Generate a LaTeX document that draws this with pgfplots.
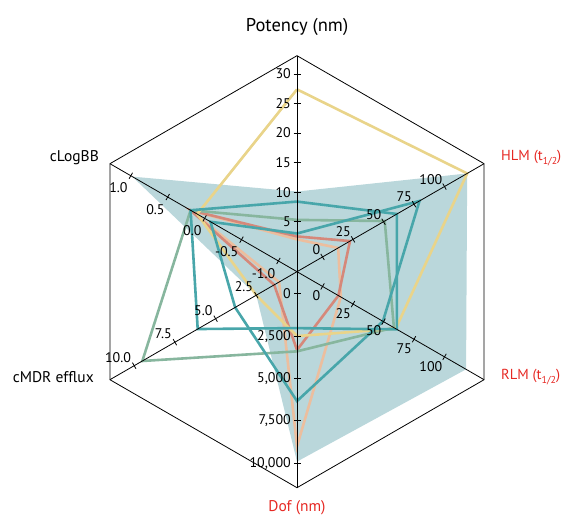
\documentclass[border=0pt]{standalone}
\usepackage{fontspec}
\setmainfont{PT Sans}
\usepackage{pgfplots}
\usepackage{pgfplotstable}
\pgfplotsset{compat=1.18}

\definecolor{fillc}{RGB}{186,215,219}
\definecolor{tealc}{RGB}{72,166,170}
\definecolor{greenc}{RGB}{135,182,158}
\definecolor{redc}{RGB}{214,136,122}
\definecolor{peachc}{RGB}{236,190,158}
\definecolor{yellowc}{RGB}{233,212,138}
\definecolor{labred}{RGB}{230,40,35}

% one row per spoke: angle, value at centre (lo), value at outer vertex (hi), then the series
\pgfplotstableread{
ang lo hi area yellow peach red green tealB tealA
90 -3.47 33.1 10.1 27.4 2.0 2.5 5.3 3.0 8.4
30 -20.95 132.45 118.6 118.6 12.8 22.5 51 79.5 61
-30 -20.95 132.45 117.7 60 15 13 58.5 49.5 61
-90 -1297 11439 9900 2500 9000 3320 3400 6330 2030
210 0 11.49 2.5 2.5 1.1 1.4 9.5 3.8 6.1
150 -1.252 1.283 0.98 0.10 0.19 0.19 0.19 -0.08 0.19
90 -3.47 33.1 10.1 27.4 2.0 2.5 5.3 3.0 8.4
}\radar

\newcommand{\radr}[1]{216*((\thisrow{#1}-(\thisrow{lo}))/(\thisrow{hi}-(\thisrow{lo})))}
\newcommand{\radplot}[2]{\addplot[#1] table[x expr={\radr{#2}*cos(\thisrow{ang})}, y expr={\radr{#2}*sin(\thisrow{ang})}]{\radar};}

\newcommand{\tickfont}{\fontsize{14bp}{16bp}\selectfont}
\newcommand{\rtick}[6]{%
  \pgfmathsetmacro\rr{216*(((#4)-(#2))/((#3)-(#2)))}%
  \draw[line width=0.8bp] (#1:\rr) ++(#1+90:3.5) -- ++(#1-90:7);
  \node[inner sep=0pt,font=\tickfont,#6] at (#1:\rr) {#5};}
\newcommand{\half}{\raisebox{-0.28em}{\fontsize{10bp}{10bp}\selectfont 1/2}}

\begin{document}
\begin{tikzpicture}
\begin{axis}[x=1bp,y=1bp,xmin=-297,xmax=269,ymin=-247.3,ymax=271.7,hide axis,clip=false]
\radplot{draw=none,fill=fillc}{area}
\radplot{peachc,line width=2.6bp}{peach}
\radplot{redc,line width=2.6bp}{red}
\radplot{greenc,line width=2.6bp}{green}
\radplot{yellowc,line width=2.6bp}{yellow}
\radplot{tealc,line width=2.6bp}{tealB}
\radplot{tealc,line width=2.6bp}{tealA}
\coordinate (O) at (axis cs:0,0);
\coordinate (BL) at (axis cs:-297,-247.3);
\coordinate (TR) at (axis cs:269,271.7);
\end{axis}
\begin{scope}[shift={(O)},x=1bp,y=1bp]
\draw[line width=0.8bp] (90:216)--(30:216)--(-30:216)--(-90:216)--(210:216)--(150:216)--cycle;
\foreach \a in {90,30,-30,-90,210,150} \draw[line width=0.8bp] (0,0)--(\a:216);
\foreach \v in {5,10,15,20,25,30} {\rtick{90}{-3.47}{33.1}{\v}{\v}{anchor=east,xshift=-6bp}}
\foreach \v in {0,25,50,75,100} {\rtick{30}{-20.95}{132.45}{\v}{\v}{anchor=south east,xshift=-2bp,yshift=2bp}}
\foreach \v in {0,25,50,75,100} {\rtick{-30}{-20.95}{132.45}{\v}{\v}{anchor=north east,xshift=-2bp,yshift=-4bp}}
\foreach \v/\l in {0/0,2500/{2,500},5000/{5,000},7500/{7,500},10000/{10,000}} {\rtick{-90}{-1297}{11439}{\v}{\l}{anchor=east,xshift=-6bp}}
\foreach \v in {2.5,5.0,7.5,10.0} {\rtick{210}{0}{11.49}{\v}{\v}{anchor=south east,xshift=-3bp,yshift=3bp}}
\foreach \v/\l in {-1.0/{-1.0},-0.5/{-0.5},0.0/{0.0},0.5/{0.5},1.0/{1.0}} {\rtick{150}{-1.252}{1.283}{\v}{\l}{anchor=north east,xshift=-3bp,yshift=-7bp}}
\node[font=\fontsize{18.5bp}{21bp}\selectfont] at (0,244.7) {Potency (nm)};
\node[font=\fontsize{14.5bp}{17bp}\selectfont,text=labred,anchor=west,inner sep=0pt] at (204,113.7) {HLM (t\half)};
\node[font=\fontsize{14.5bp}{17bp}\selectfont,text=labred,anchor=west,inner sep=0pt] at (204,-105.3) {RLM (t\half)};
\node[font=\fontsize{15.5bp}{18bp}\selectfont,text=labred] at (0,-236.3) {Dof (nm)};
\node[font=\fontsize{15.5bp}{18bp}\selectfont,anchor=east,inner sep=0pt] at (-203,-105.3) {cMDR efflux};
\node[font=\fontsize{15.5bp}{18bp}\selectfont,anchor=east,inner sep=0pt] at (-198,113.7) {cLogBB};
\end{scope}
\pgfresetboundingbox
\path (BL) rectangle (TR);
\end{tikzpicture}
\end{document}
